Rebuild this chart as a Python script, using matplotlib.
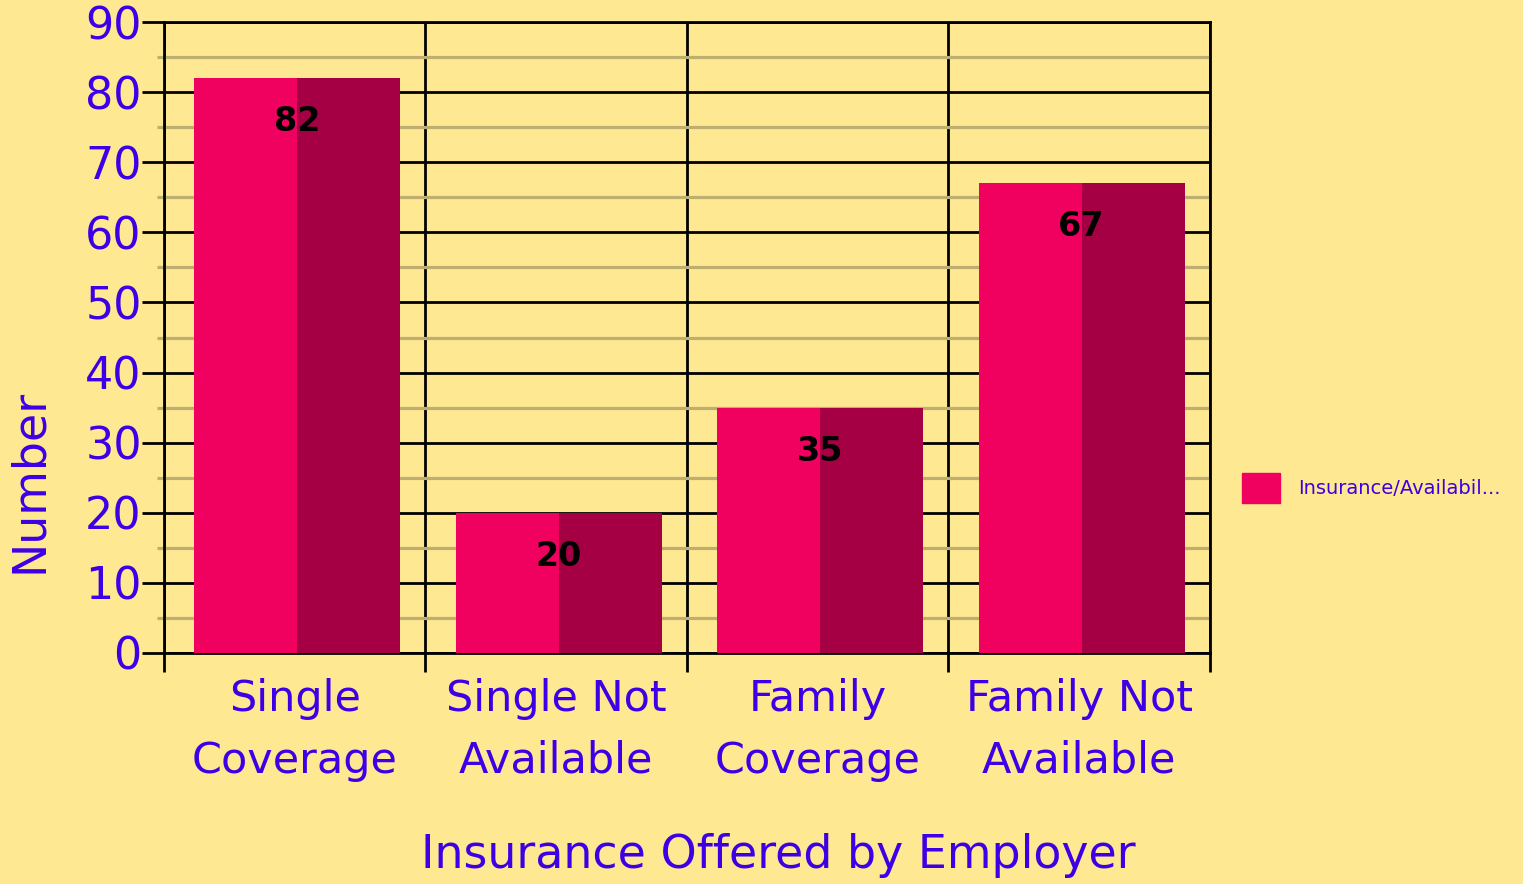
import matplotlib.pyplot as plt
from matplotlib.patches import Patch

# data
categories = ['Single\nCoverage', 'Single Not\nAvailable', 'Family\nCoverage', 'Family Not\nAvailable']
counts = [82, 20, 35, 67]
series_name = 'Insurance/Availabil...'

bg = '#FFE892'
blue = '#3D00E6'
bright = '#F0005F'
dark = '#A60044'
tan = '#BDAE72'

plt.rcParams['font.family'] = 'DejaVu Sans'

fig = plt.figure(figsize=(15.23, 8.84), dpi=100, facecolor=bg)
ax = fig.add_axes([164/1523, 1-653/884, (1210-164)/1523, (653-22)/884], facecolor=bg)

pos = list(range(len(counts)))
half = 0.394
left_x = [p + 0.115 for p in pos]
mid_x = [p + 0.115 + half for p in pos]
ax.bar(left_x, counts, width=half, align='edge', color=bright, zorder=3, linewidth=0)
ax.bar(mid_x, counts, width=half, align='edge', color=dark, zorder=3, linewidth=0)

# value labels inside bars
for x, v in zip(mid_x, counts):
    ax.text(x, v - 6.2, str(v), ha='center', va='center', fontsize=24,
            fontweight='bold', color='black', zorder=4)

ax.set_xlim(0, len(counts))
ax.set_ylim(0, 90)

# y grid: black major, tan minor
ax.set_yticks(range(0, 91, 10))
ax.set_yticks(range(5, 90, 10), minor=True)
ax.grid(axis='y', which='major', color='black', linewidth=2, zorder=1)
ax.grid(axis='y', which='minor', color=tan, linewidth=2.3, zorder=1)
ax.tick_params(axis='y', which='major', length=16, width=2, color='black',
               labelsize=32, labelcolor=blue, pad=0)
ax.tick_params(axis='y', which='minor', length=5, width=2.3, color=tan)

# x: boundaries as major ticks + grid, labels at centers
centers = [p + 0.5 for p in pos]
ax.set_xticks(range(0, len(counts) + 1))
ax.set_xticklabels([])
ax.set_xticks(centers, minor=True)
ax.set_xticklabels(categories, minor=True, fontsize=31, color=blue, linespacing=1.6)
ax.grid(axis='x', which='major', color='black', linewidth=2, zorder=1)
ax.tick_params(axis='x', which='major', length=14, width=2, color='black')
ax.tick_params(axis='x', which='minor', length=0, pad=18)

for s in ax.spines.values():
    s.set_color('black')
    s.set_linewidth(2)
    s.set_zorder(2)

fig.text(778/1523, 1-855/884, 'Insurance Offered by Employer', ha='center', va='center',
         fontsize=33, color=blue)
fig.text(30/1523, 1-481/884, 'Number', ha='center', va='center', rotation=90,
         fontsize=33, color=blue)

leg = fig.legend(handles=[Patch(color=bright, label=series_name)],
                 loc='center left', bbox_to_anchor=(1224/1523, 1-488/884),
                 frameon=False, fontsize=14, handlelength=2.0, handleheight=2.0,
                 handletextpad=0.9)
for t in leg.get_texts():
    t.set_color(blue)

fig.savefig('out.png', dpi=100, facecolor=bg)
